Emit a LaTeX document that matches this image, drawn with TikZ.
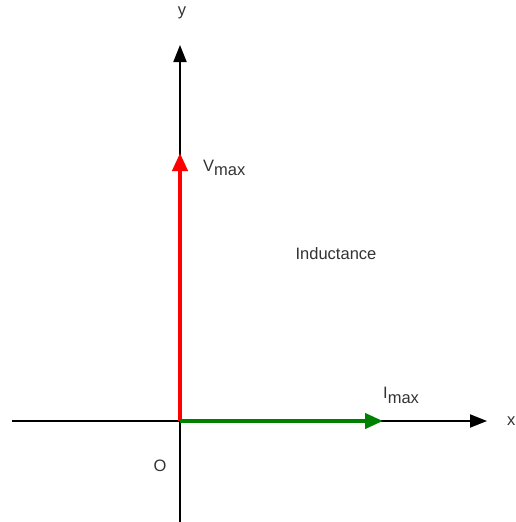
\documentclass[tikz,border=0pt]{standalone}
\usepackage{fontspec}
\setmainfont{Liberation Sans}
\usetikzlibrary{arrows.meta}
\definecolor{txt}{HTML}{333333}
\definecolor{vred}{HTML}{FF0000}
\definecolor{igreen}{HTML}{008000}
\begin{document}
\begin{tikzpicture}[x=1pt,y=-1pt,
  axis/.style={line width=2pt,black,-{Triangle[length=17pt,width=13pt]}},
  phasor/.style={line width=4pt,-{Triangle[length=18pt,width=15pt]}},
  lbl/.style={inner sep=0pt,text=txt,font=\fontsize{16.5}{19}\selectfont}]
\useasboundingbox (0,0) rectangle (515,522);
\coordinate (o) at (180,421);
\coordinate (xl) at (12,421);
\coordinate (xt) at (487,421);
\coordinate (yb) at (180,522);
\coordinate (yt) at (180,45);
\coordinate (vt) at (180,153);
\coordinate (it) at (383,421);
\draw[axis] (xl) -- (xt);
\draw[axis] (yb) -- (yt);
\draw[phasor,vred] (o) -- (vt);
\draw[phasor,igreen] (o) -- (it);
\node[lbl] (ylab) at (182,13) {y};
\node[lbl,anchor=west] (xlab) at (507,421) {x};
\node[lbl] (olab) at (160,466) {O};
\node[lbl,anchor=base west] (vlab) at (203,171) {V\raisebox{-4.5pt}{max}};
\node[lbl,anchor=base west] (ilab) at (383,398) {I\raisebox{-5pt}{max}};
\node[lbl] (ind) at (336,254) {Inductance};
\end{tikzpicture}
\end{document}
